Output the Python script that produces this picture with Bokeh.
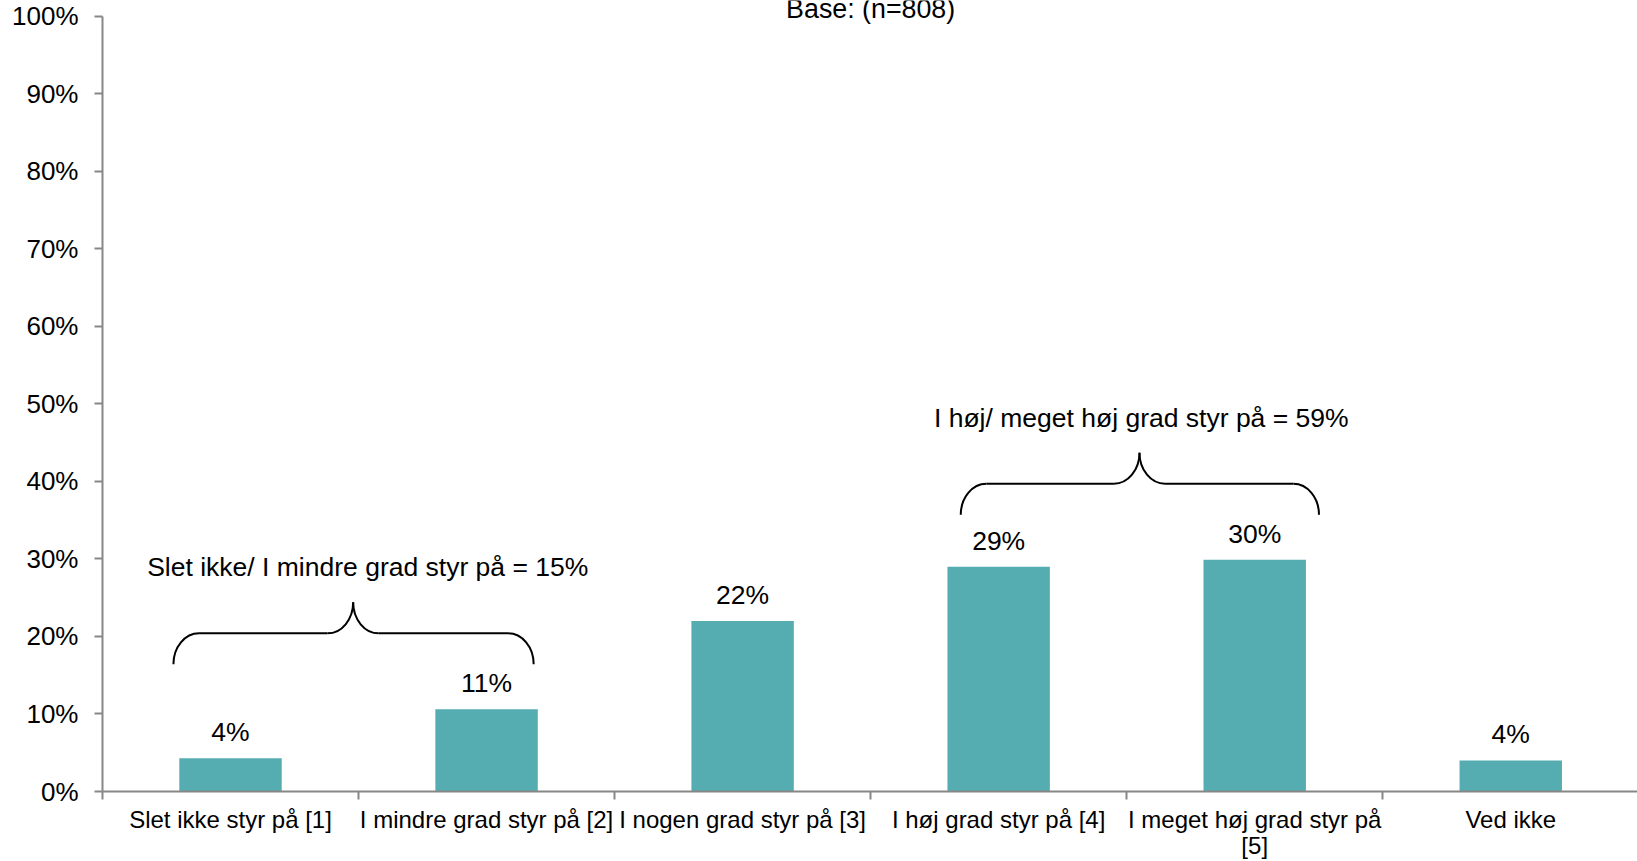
from bokeh.plotting import figure
from bokeh.models import ColumnDataSource, FixedTicker, Range1d, LinearAxis
from bokeh.core.properties import value
from bokeh.embed import file_html
from bokeh.resources import INLINE

# ---------------- data ----------------
categories = [
    "Slet ikke styr på [1]",
    "I mindre grad styr på [2]",
    "I nogen grad styr på [3]",
    "I høj grad styr på [4]",
    "I meget høj grad styr på\n[5]",
    "Ved ikke",
]
shares = [0.043, 0.106, 0.220, 0.290, 0.299, 0.040]
share_labels = ["4%", "11%", "22%", "29%", "30%", "4%"]
y_ticks = [0.0, 0.1, 0.2, 0.3, 0.4, 0.5, 0.6, 0.7, 0.8, 0.9, 1.0]
y_tick_labels = ["0%", "10%", "20%", "30%", "40%", "50%", "60%", "70%", "80%", "90%", "100%"]
title_text = "Base: (n=808)"
group_members = [[0, 1], [3, 4]]
group_texts = ["Slet ikke/ I mindre grad styr på = 15%", "I høj/ meget høj grad styr på = 59%"]

# ---------------- style ----------------
FONT = "Liberation Sans"
BAR_COLOR = "#55adb1"
AXIS_COLOR = "#878787"
TEXT_COLOR = "#000000"
W, H = 1637, 861
FRAME_BOTTOM = 791  # px from top

centers = [i + 0.5 for i in range(len(categories))]

p = figure(
    width=W, height=H,
    x_range=Range1d(0, 5.995), y_range=Range1d(0, 1.0203),
    output_backend="svg", toolbar_location=None,
    min_border_left=102, min_border_right=0, min_border_top=0, min_border_bottom=H - FRAME_BOTTOM,
)
p.outline_line_color = None
p.xgrid.grid_line_color = None
p.ygrid.grid_line_color = None
p.background_fill_color = "white"
p.border_fill_color = "white"

src = ColumnDataSource(dict(x=centers, top=shares, lab=share_labels))
p.vbar(x="x", top="top", width=0.4, bottom=0, source=src,
       fill_color=BAR_COLOR, line_color=None)
p.text(x="x", y="top", text="lab", source=src, y_offset=-26,
       text_align="center", text_baseline="middle",
       text_font=value(FONT), text_font_size="26.5px", text_color=TEXT_COLOR)

# x axis: labels at centres, tick marks at category boundaries (minor ticks)
first_lines = [c.split("\n")[0] for c in categories]
xa = p.xaxis[0]
xa.ticker = FixedTicker(ticks=centers, minor_ticks=list(range(len(categories) + 1)))
xa.major_label_overrides = {c: lab for c, lab in zip(centers, first_lines)}
xa.major_tick_out = 0
xa.major_tick_in = 0
xa.minor_tick_out = 8
xa.minor_tick_in = 0
xa.minor_tick_line_color = AXIS_COLOR
xa.minor_tick_line_width = 2
xa.axis_line_color = AXIS_COLOR
xa.axis_line_width = 2
xa.major_label_standoff = 6
xa.major_label_text_font = FONT
xa.major_label_text_font_size = "24px"
xa.major_label_text_color = TEXT_COLOR

# second line of wrapped category labels: an extra label-only axis below
wrap_pos = [c for c, lab in zip(centers, categories) if "\n" in lab]
wrap_txt = [lab.split("\n", 1)[1] for lab in categories if "\n" in lab]
xb = LinearAxis(ticker=FixedTicker(ticks=wrap_pos, minor_ticks=[]))
xb.major_label_overrides = {c: t for c, t in zip(wrap_pos, wrap_txt)}
xb.axis_line_color = None
xb.major_tick_line_color = None
xb.minor_tick_line_color = None
xb.major_tick_out = 0
xb.major_tick_in = 0
xb.minor_tick_out = 0
xb.minor_tick_in = 0
xb.major_label_standoff = -4
xb.major_label_text_font = FONT
xb.major_label_text_font_size = "24px"
xb.major_label_text_color = TEXT_COLOR
p.add_layout(xb, "below")

ya = p.yaxis[0]
ya.ticker = FixedTicker(ticks=y_ticks, minor_ticks=[])
ya.major_label_overrides = {t: lab for t, lab in zip(y_ticks, y_tick_labels)}
ya.bounds = (0, 1)
ya.major_tick_out = 8
ya.major_tick_in = 0
ya.major_tick_line_color = AXIS_COLOR
ya.major_tick_line_width = 2
ya.minor_tick_line_color = None
ya.axis_line_color = AXIS_COLOR
ya.axis_line_width = 2
ya.major_label_standoff = 16
ya.major_label_text_font = FONT
ya.major_label_text_font_size = "26px"
ya.major_label_text_color = TEXT_COLOR

# title (partly cut off at top as in the reference)
p.text(x=[3.0], y=[1.0203], text=[title_text], text_align="center",
       text_baseline="middle", y_offset=8, text_font=value(FONT), text_font_size="26.8px",
       text_color=TEXT_COLOR)

# curly brackets over groups
bracket_x = [(-0.223, 0.184, -0.021, 0.036), (-0.148, 0.251, 0.05, 0.057)]  # left, right, tip, text offsets
rx, ry, k = 0.10, 0.040, 0.5523
bx0, by0, bcx0, bcy0, bcx1, bcy1, bx1, by1 = [], [], [], [], [], [], [], []
sx0, sy0, sx1, sy1 = [], [], [], []
tx, ty = [], []
for members, (dl, dr, dt, dtx) in zip(group_members, bracket_x):
    left = centers[members[0]] + dl
    right = centers[members[-1]] + dr
    tip = (centers[members[0]] + centers[members[-1]]) / 2 + dt
    yb = max(shares[m] for m in members) + 0.058
    yh = yb + ry
    yt = yh + ry
    # left end
    bx0.append(left); by0.append(yb); bcx0.append(left); bcy0.append(yb + k * ry)
    bcx1.append(left + rx * (1 - k)); bcy1.append(yh); bx1.append(left + rx); by1.append(yh)
    # right end
    bx0.append(right); by0.append(yb); bcx0.append(right); bcy0.append(yb + k * ry)
    bcx1.append(right - rx * (1 - k)); bcy1.append(yh); bx1.append(right - rx); by1.append(yh)
    # tip left
    bx0.append(tip - rx); by0.append(yh); bcx0.append(tip - rx * (1 - k)); bcy0.append(yh)
    bcx1.append(tip); bcy1.append(yt - k * ry); bx1.append(tip); by1.append(yt)
    # tip right
    bx0.append(tip + rx); by0.append(yh); bcx0.append(tip + rx * (1 - k)); bcy0.append(yh)
    bcx1.append(tip); bcy1.append(yt - k * ry); bx1.append(tip); by1.append(yt)
    # straight parts
    sx0 += [left + rx, tip + rx]; sy0 += [yh, yh]
    sx1 += [tip - rx, right - rx]; sy1 += [yh, yh]
    tx.append((centers[members[0]] + centers[members[-1]]) / 2 + dtx)
    ty.append(yt + 0.045)

p.bezier(x0=bx0, y0=by0, x1=bx1, y1=by1, cx0=bcx0, cy0=bcy0, cx1=bcx1, cy1=bcy1,
         line_color="black", line_width=2)
p.segment(x0=sx0, y0=sy0, x1=sx1, y1=sy1, line_color="black", line_width=2)
p.text(x=tx, y=ty, text=group_texts, text_align="center", text_baseline="middle",
       text_font=value(FONT), text_font_size="26.5px", text_color=TEXT_COLOR)

open("out.html", "w").write(file_html(p, INLINE))
